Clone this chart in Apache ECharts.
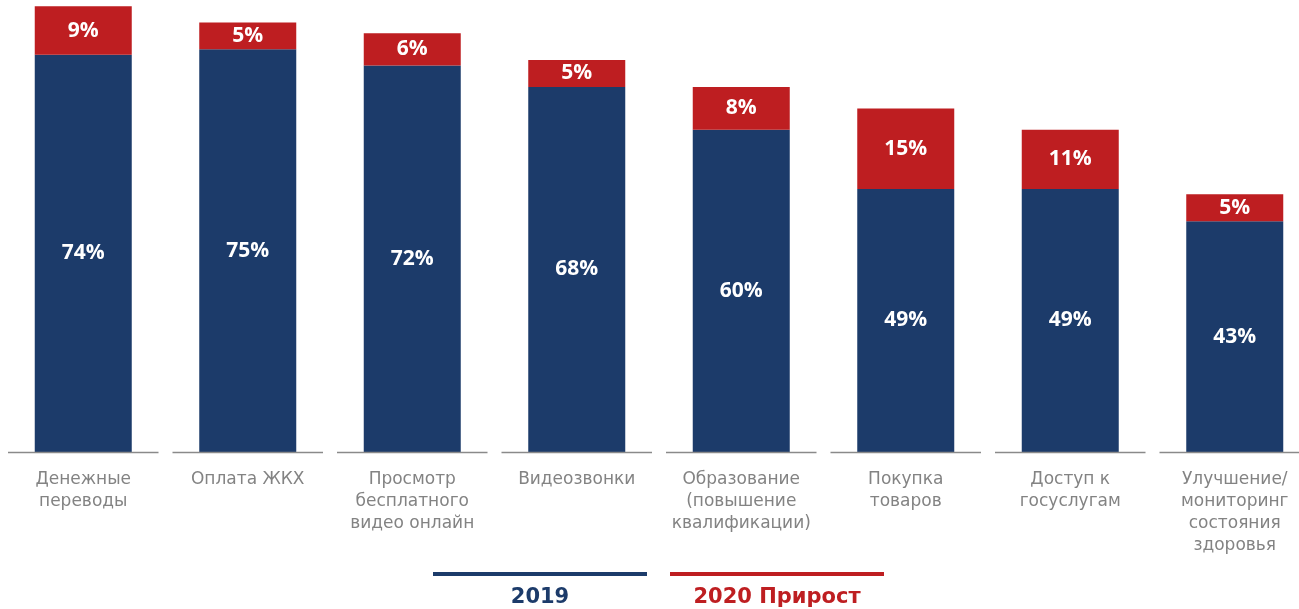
<!DOCTYPE html>
<html>
<head>
<meta charset="utf-8">
<script src="https://cdn.jsdelivr.net/npm/echarts@6/dist/echarts.min.js"></script>
<style>
  html, body { margin: 0; padding: 0; background: #ffffff; overflow: hidden; }
  #chart { width: 1320px; height: 609px; }
</style>
</head>
<body>
<div id="chart"></div>
<script>
// Categories of online services
const categories = [
  'Денежные\nпереводы',
  'Оплата ЖКХ',
  'Просмотр\nбесплатного\nвидео онлайн',
  'Видеозвонки',
  'Образование\n(повышение\nквалификации)',
  'Покупка\nтоваров',
  'Доступ к\nгосуслугам',
  'Улучшение/\nмониторинг\nсостояния\nздоровья'
];

// Share of users in 2019, %
const values2019 = [74, 75, 72, 68, 60, 49, 49, 43];

// Growth in 2020, percentage points
const growth2020 = [9, 5, 6, 5, 8, 15, 11, 5];

const seriesNames = ['2019', '2020 Прирост'];

const NAVY = '#1c3b6a';
const RED = '#be1e21';
const FONT = '"Open Sans", "DejaVu Sans", sans-serif';
const LABEL_FONT = '"DejaVu Sans", sans-serif';

const chart = echarts.init(document.getElementById('chart'));

const valueLabel = {
  show: true,
  position: 'inside',
  color: '#ffffff',
  fontFamily: FONT,
  fontWeight: 'bold',
  fontSize: 21,
  formatter: p => p.value + '%'
};

chart.setOption({
  animation: false,
  grid: { left: 1, width: 1316, top: 1, bottom: 157, containLabel: false },
  xAxis: {
    type: 'category',
    data: categories,
    axisLine: { show: false },
    axisTick: { show: false },
    axisLabel: {
      interval: 0,
      margin: 17,
      color: '#838383',
      fontFamily: LABEL_FONT,
      fontSize: 17,
      lineHeight: 22
    }
  },
  yAxis: {
    type: 'value',
    min: 0,
    max: 84,
    show: false
  },
  series: [
    {
      name: seriesNames[0],
      type: 'bar',
      stack: 'total',
      barWidth: 97,
      data: values2019,
      itemStyle: { color: NAVY },
      label: valueLabel
    },
    {
      name: seriesNames[1],
      type: 'bar',
      stack: 'total',
      barWidth: 97,
      data: growth2020,
      itemStyle: { color: RED },
      label: valueLabel
    },
    {
      // baseline segment under each category
      type: 'custom',
      silent: true,
      data: categories.map((c, i) => [i, 0]),
      renderItem: (params, api) => {
        const pt = api.coord([api.value(0), 0]);
        const band = api.size([1, 0])[0];
        return {
          type: 'line',
          shape: { x1: pt[0] - band / 2 + 7, y1: pt[1] + 0.5, x2: pt[0] + band / 2 - 7, y2: pt[1] + 0.5 },
          style: { stroke: '#8a8a8a', lineWidth: 1.5 }
        };
      },
      z: 5
    }
  ],
  graphic: [
    { type: 'rect', x: 433, y: 572, shape: { width: 214, height: 4 }, style: { fill: NAVY } },
    { type: 'rect', x: 670, y: 572, shape: { width: 214, height: 4 }, style: { fill: RED } },
    {
      type: 'text', x: 540, y: 598,
      style: { text: seriesNames[0], fill: NAVY, font: 'bold 21px ' + LABEL_FONT, textAlign: 'center', textVerticalAlign: 'middle' }
    },
    {
      type: 'text', x: 777, y: 598,
      style: { text: seriesNames[1], fill: RED, font: 'bold 21px ' + LABEL_FONT, textAlign: 'center', textVerticalAlign: 'middle' }
    }
  ]
});
</script>
</body>
</html>
